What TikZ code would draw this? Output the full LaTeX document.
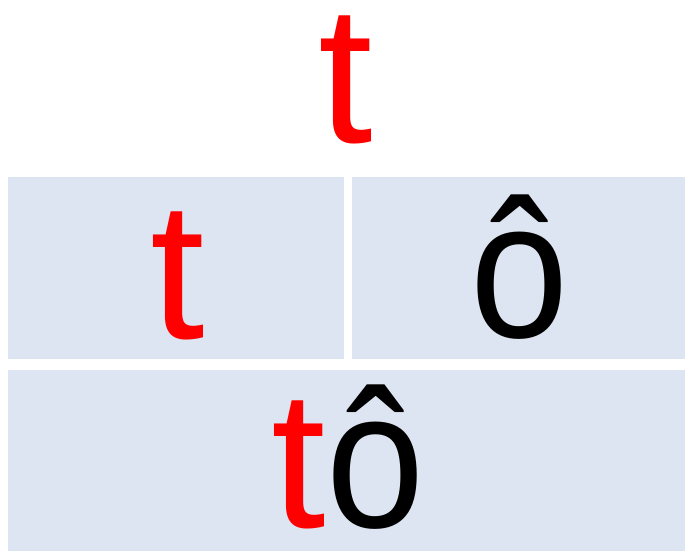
\documentclass[tikz,border=0pt]{standalone}
\usepackage{fontspec}
\setmainfont{Liberation Sans}
\definecolor{boxblue}{RGB}{220,229,241}
\definecolor{tred}{RGB}{255,0,0}
\begin{document}
\begin{tikzpicture}[x=1pt,y=-1pt,
  panel/.style={fill=boxblue,draw=none,inner sep=0pt,outer sep=0pt},
  big/.style={inner sep=0pt,anchor=base,text height=130pt,text depth=0pt,
    font=\fontsize{196}{196}\selectfont}]
\useasboundingbox (0,0) rectangle (685,551);
\fill[white] (0,0) rectangle (685,551);
\node[panel,minimum width=336pt,minimum height=182pt,anchor=north west] (left) at (8,177) {};
\node[panel,minimum width=333pt,minimum height=182pt,anchor=north west] (right) at (352,177) {};
\node[panel,minimum width=677pt,minimum height=181pt,anchor=north west] (bottom) at (8,370) {};
\node[big,text=tred] (ttop) at (346,142) {t};
\node[big,text=tred] (tleft) at (178,338) {t};
\node[big] (oright) at (520,337) {\scalebox{0.9}[1]{ô}};
\node[big] (to) at (348,527) {\textcolor{tred}{t}\scalebox{0.9}[1]{ô}};
\end{tikzpicture}
\end{document}
